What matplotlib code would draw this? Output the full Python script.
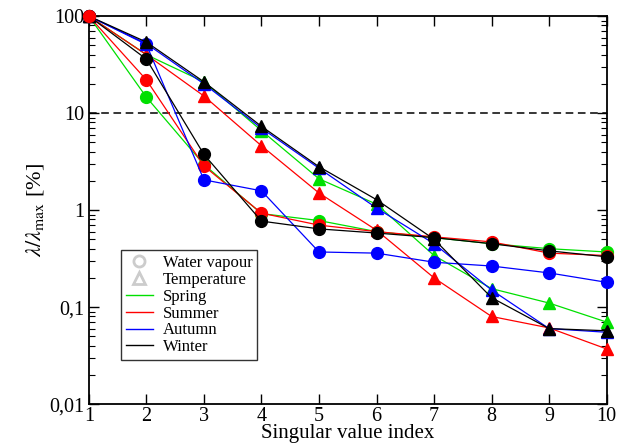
import matplotlib
matplotlib.use("Agg")
import matplotlib.pyplot as plt
from matplotlib.lines import Line2D
from matplotlib.ticker import LogLocator, NullFormatter

plt.rcParams["font.family"] = ["Liberation Serif", "DejaVu Serif"]
plt.rcParams["mathtext.fontset"] = "stix"

idx = list(range(1, 11))

# water vapour (circles)
wv_spring = [100, 14.6, 2.95, 0.92, 0.78, 0.60, 0.52, 0.45, 0.40, 0.37]
wv_summer = [100, 22.0, 2.85, 0.93, 0.70, 0.60, 0.53, 0.47, 0.36, 0.34]
wv_autumn = [100, 51.0, 2.05, 1.58, 0.37, 0.36, 0.29, 0.265, 0.225, 0.18]
wv_winter = [100, 36.0, 3.75, 0.77, 0.64, 0.58, 0.52, 0.45, 0.38, 0.33]

# temperature (triangles)
t_spring = [100, 40.0, 21.0, 6.6, 2.1, 1.15, 0.34, 0.155, 0.11, 0.07]
t_summer = [100, 40.0, 15.0, 4.6, 1.5, 0.62, 0.20, 0.08, 0.061, 0.037]
t_autumn = [100, 52.0, 20.0, 7.0, 2.7, 1.05, 0.45, 0.15, 0.06, 0.055]
t_winter = [100, 54.0, 21.0, 7.3, 2.8, 1.28, 0.50, 0.125, 0.06, 0.057]

seasons = ["Spring", "Summer", "Autumn", "Winter"]
colors = ["#00e000", "#ff0000", "#0000ff", "#000000"]
wv = [wv_spring, wv_summer, wv_autumn, wv_winter]
temp = [t_spring, t_summer, t_autumn, t_winter]

fig = plt.figure(figsize=(6.3, 4.47), dpi=100)
ax = fig.add_axes([0.141, 0.096, 0.822, 0.868])

for c, w, t in zip(colors, wv, temp):
    ax.plot(idx, t, color=c, lw=0.9, marker="^", ms=8, mec=c, mfc=c, clip_on=False, zorder=3)
    ax.plot(idx, w, color=c, lw=0.9, marker="o", ms=8.5, mec=c, mfc=c, clip_on=False, zorder=3)

# red point at index 1 sits on top in the original
ax.plot(idx[:1], wv_summer[:1], ls="none", marker="o", ms=8.5, color="#ff0000", clip_on=False, zorder=4)

ax.axhline(10, color="black", lw=1.1, ls=(0, (5, 3)))

ax.set_yscale("log")
ax.set_xlim(1, 10)
ax.set_ylim(0.01, 100)
ax.set_xticks(idx)
ax.set_yticks([0.01, 0.1, 1, 10, 100])
ax.set_yticklabels(["0,01", "0,1", "1", "10", "100"])
ax.yaxis.set_minor_locator(LogLocator(base=10, subs=range(2, 10), numticks=20))
ax.yaxis.set_minor_formatter(NullFormatter())
ax.tick_params(which="both", direction="in", top=True, right=True, labelsize=14.5)
ax.tick_params(which="major", length=7, width=1)
ax.tick_params(which="minor", length=4, width=0.8)
ax.tick_params(axis="x", pad=2)
for s in ax.spines.values():
    s.set_linewidth(1.3)

ax.set_xlabel("Singular value index", fontsize=15, labelpad=-1)
ax.set_ylabel(r"$\lambda/\lambda_{\rm max}$ [%]", fontsize=16, labelpad=2)

handles = [
    Line2D([], [], ls="none", marker="o", ms=8, mfc="none", mec="#cccccc", mew=2),
    Line2D([], [], ls="none", marker="^", ms=8, mfc="none", mec="#cccccc", mew=2),
]
handles += [Line2D([], [], color=c, lw=1) for c in colors]
labels = ["Water vapour", "Temperature"] + seasons
leg = ax.legend(handles, labels, loc="lower left", bbox_to_anchor=(0.062, 0.113),
                fontsize=12, frameon=True, fancybox=False, edgecolor="black",
                handlelength=1.6, handletextpad=0.6, labelspacing=0.05,
                borderpad=0.3, borderaxespad=0)
leg.get_frame().set_linewidth(1)

fig.savefig("out.png", dpi=100)
